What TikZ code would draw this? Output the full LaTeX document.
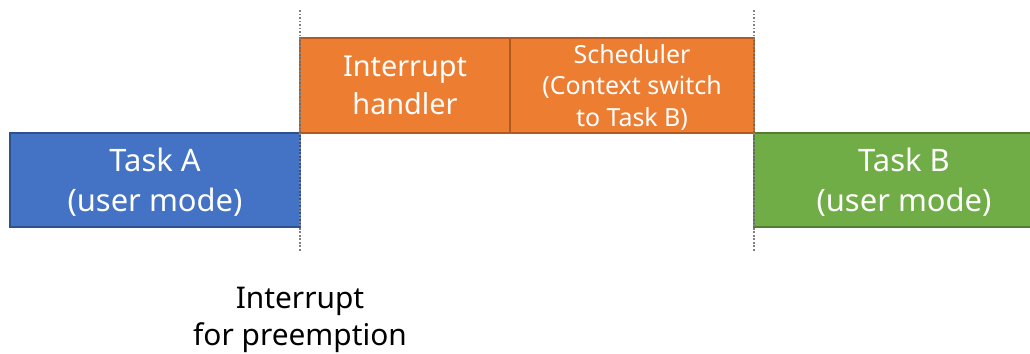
\documentclass[tikz,border=0pt]{standalone}
\usepackage{fontspec}
\setmainfont{Noto Sans}

\definecolor{taskblue}{HTML}{4472C4}
\definecolor{taskblueline}{HTML}{2F528F}
\definecolor{kernorange}{HTML}{ED7D31}
\definecolor{kernorangeline}{HTML}{AE5A21}
\definecolor{taskgreen}{HTML}{70AD47}
\definecolor{taskgreenline}{HTML}{507E32}

\begin{document}
\begin{tikzpicture}[
        x=0.02cm, y=-0.02cm,
        slot/.style={draw, line width=1pt, text=white, align=center,
            inner sep=0pt, outer sep=0pt, text depth=0pt},
        usertask/.style={slot, minimum width=290*0.02cm, minimum height=94*0.02cm,
            font=\fontsize{17.6}{22.7}\selectfont},
        marker/.style={gray, line width=1.2pt, dash pattern=on 1pt off 1pt}
    ]

        \clip (0,0) rectangle (1030,353);

        % Tasks in user mode
        \node[usertask, fill=taskblue, draw=taskblueline] (taskA) at (155,180)
            {Task A\\(user mode)};

        \node[usertask, fill=taskgreen, draw=taskgreenline,
              minimum width=300*0.02cm] (taskB) at (904,180)
            {Task B\\(user mode)};

        % Kernel side
        \node[slot, fill=kernorange, draw=kernorangeline,
              minimum width=210*0.02cm, minimum height=95*0.02cm,
              font=\fontsize{16.4}{21.5}\selectfont] (handler) at (405,85.5)
            {Interrupt\\handler};

        \node[slot, fill=kernorange, draw=kernorangeline,
              minimum width=244*0.02cm, minimum height=95*0.02cm,
              font=\fontsize{14.2}{18.1}\selectfont] (sched) at (632,85.5)
            {Scheduler\\(Context switch\\to Task B)};

        % Switch points
        \coordinate (cutA top) at (300,10);
        \coordinate (cutA bot) at (300,252);
        \coordinate (cutB top) at (754,10);
        \coordinate (cutB bot) at (754,252);

        \draw[marker] (cutA top) -- (cutA bot);
        \draw[marker] (cutB top) -- (cutB bot);

        \node[align=center, font=\fontsize{17}{21.5}\selectfont] (irq) at (300,320)
            {Interrupt\\for preemption};

    \end{tikzpicture}
\end{document}
